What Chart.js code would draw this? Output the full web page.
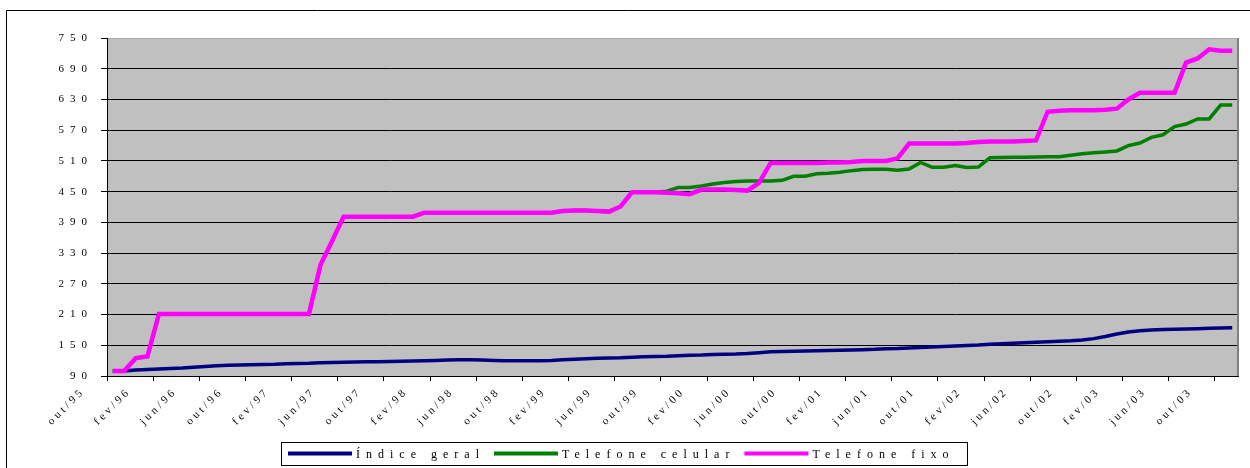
<!DOCTYPE html>
<html>
<head>
<meta charset="utf-8">
<script src="https://cdn.jsdelivr.net/npm/chart.js@4/dist/chart.umd.min.js"></script>
<style>
  html, body { margin: 0; padding: 0; background: #ffffff; }
  canvas { display: block; }
</style>
</head>
<body>
<canvas id="c" width="1250" height="468" style="width:1250px;height:468px"></canvas>
<script>
// Monthly categories, out/95 .. nov/03
const months = [
  'out/95','nov/95','dez/95',
  'jan/96','fev/96','mar/96','abr/96','mai/96','jun/96','jul/96','ago/96','set/96','out/96','nov/96','dez/96',
  'jan/97','fev/97','mar/97','abr/97','mai/97','jun/97','jul/97','ago/97','set/97','out/97','nov/97','dez/97',
  'jan/98','fev/98','mar/98','abr/98','mai/98','jun/98','jul/98','ago/98','set/98','out/98','nov/98','dez/98',
  'jan/99','fev/99','mar/99','abr/99','mai/99','jun/99','jul/99','ago/99','set/99','out/99','nov/99','dez/99',
  'jan/00','fev/00','mar/00','abr/00','mai/00','jun/00','jul/00','ago/00','set/00','out/00','nov/00','dez/00',
  'jan/01','fev/01','mar/01','abr/01','mai/01','jun/01','jul/01','ago/01','set/01','out/01','nov/01','dez/01',
  'jan/02','fev/02','mar/02','abr/02','mai/02','jun/02','jul/02','ago/02','set/02','out/02','nov/02','dez/02',
  'jan/03','fev/03','mar/03','abr/03','mai/03','jun/03','jul/03','ago/03','set/03','out/03','nov/03'
];

// Índice geral
const indiceGeral = [
  100, 100, 101.5, 102.5, 103.5, 104.5, 105.5, 107, 108.5, 110,
  111, 111.5, 112, 112.5, 113, 114, 114.5, 115, 116, 116.5,
  117, 117.5, 118, 118, 118.5, 119, 119.5, 120, 120.5, 121,
  121.5, 121.5, 121, 120.5, 120, 120, 120, 120, 120.5, 121.5,
  122.5, 123.5, 124.5, 125, 125.5, 126.5, 127.5, 128, 128.5, 129.5,
  130.5, 131, 132, 132.5, 133, 134, 135.5, 137.5, 138, 138.5,
  139, 139.5, 140, 140.5, 141, 141.5, 142, 143, 143.5, 144.5,
  145.5, 146.5, 147.5, 148.5, 149.5, 150.5, 152, 153, 154, 155,
  156, 157, 158, 159, 160.5, 163, 167, 172, 176, 178.5,
  180, 181, 181.5, 182, 182.5, 183, 183.5, 184
];

// Telefone celular
const telefoneCelular = [
  100, 100, 125, 128, 211, 211, 211, 211, 211, 211,
  211, 211, 211, 211, 211, 211, 211, 211, 307, 353,
  401, 401, 401, 401, 401, 401, 401, 409, 409, 409,
  409, 409, 409, 409, 409, 409, 409, 409, 409, 412,
  413, 413, 412, 411, 421, 449, 449, 449, 451, 458,
  458, 461, 465, 468, 470, 471, 471, 471, 472, 480,
  480, 485, 486, 488, 491, 493, 493.5, 493.5, 492, 494,
  507, 497.5, 497.5, 501, 497, 498, 516, 516.5, 517, 517,
  517.5, 518, 518, 521, 524, 526, 527.5, 529.5, 540, 545,
  556, 561, 577, 582, 592, 592, 619, 619
];

// Telefone fixo
const telefoneFixo = [
  100, 100, 125, 128, 211, 211, 211, 211, 211, 211,
  211, 211, 211, 211, 211, 211, 211, 211, 307, 353,
  401, 401, 401, 401, 401, 401, 401, 409, 409, 409,
  409, 409, 409, 409, 409, 409, 409, 409, 409, 412,
  413, 413, 412, 411, 421, 449, 449, 449, 448, 447,
  445, 454, 454, 454, 453, 452, 467, 506, 506, 506,
  506, 506, 507, 507, 508, 510, 510, 510, 515, 544,
  544, 544, 544, 544, 545, 547, 548, 548, 548, 549,
  550, 606, 608, 609, 609, 609, 610, 612, 630, 643,
  643, 643, 643, 702, 710, 728, 725, 725
];

const seriesNames = ['Índice geral', 'Telefone celular', 'Telefone fixo'];
const seriesColors = ['#000080', '#008000', '#ff00ff'];
const yMin = 90, yMax = 750, yStep = 60;
const labelEvery = 4;

const serif = "'Liberation Serif', 'Times New Roman', serif";

// Linear scale whose tick labels get extra letter spacing
class SpacedLinearScale extends Chart.LinearScale {
  drawLabels(area) {
    const ctx = this.ctx;
    ctx.save();
    ctx.letterSpacing = '6px';
    super.drawLabels(area);
    ctx.restore();
  }
}
SpacedLinearScale.id = 'spacedLinear';
SpacedLinearScale.defaults = Chart.LinearScale.defaults;

// Category scale drawing its labels at 45°, glyph by glyph with spacing
class SlantedCategoryScale extends Chart.CategoryScale {
  drawLabels() {
    const ctx = this.ctx;
    const spacing = 3.2, shiftX = -32, shiftY = 16;
    ctx.save();
    ctx.font = '11px ' + serif;
    ctx.fillStyle = '#000000';
    ctx.textBaseline = 'middle';
    ctx.textAlign = 'left';
    this.ticks.forEach((t, i) => {
      const label = t.label;
      if (!label) return;
      const chars = Array.from(label);
      const widths = chars.map((ch) => ctx.measureText(ch).width);
      const total = widths.reduce((s, w) => s + w, 0) + spacing * (chars.length - 1);
      ctx.save();
      ctx.translate(this.getPixelForTick(i) + shiftX, this.top + shiftY);
      ctx.rotate(-Math.PI / 4);
      let cx = -total;
      chars.forEach((ch, k) => {
        ctx.fillText(ch, cx, 0);
        cx += widths[k] + spacing;
      });
      ctx.restore();
    });
    ctx.restore();
  }
}
SlantedCategoryScale.id = 'slantedCategory';
SlantedCategoryScale.defaults = Chart.CategoryScale.defaults;

Chart.register(SpacedLinearScale, SlantedCategoryScale);

// Grey plot area on a white page
const backdrop = {
  id: 'backdrop',
  beforeDraw(chart) {
    const { ctx, chartArea: a } = chart;
    ctx.save();
    ctx.fillStyle = '#ffffff';
    ctx.fillRect(0, 0, chart.width, chart.height);
    ctx.fillStyle = '#c0c0c0';
    ctx.fillRect(a.left, a.top, a.right - a.left, a.bottom - a.top);
    ctx.restore();
  }
};

// Outer frame, plot-area edge and the boxed legend
const frameAndLegend = {
  id: 'frameAndLegend',
  afterDraw(chart) {
    const { ctx, chartArea: a } = chart;
    ctx.save();
    // right edge of the plot area
    ctx.strokeStyle = '#808080';
    ctx.lineWidth = 2;
    ctx.beginPath();
    ctx.moveTo(a.right, a.top);
    ctx.lineTo(a.right, a.bottom);
    ctx.stroke();

    // outer frame
    ctx.strokeStyle = '#000000';
    ctx.lineWidth = 1;
    ctx.beginPath();
    ctx.moveTo(6.5, chart.height + 2);
    ctx.lineTo(6.5, 10.5);
    ctx.lineTo(chart.width + 2, 10.5);
    ctx.stroke();

    // legend
    const box = { left: 281.5, top: 442.5, right: 967.5, bottom: 465.5 };
    ctx.fillStyle = '#ffffff';
    ctx.fillRect(box.left, box.top, box.right - box.left, box.bottom - box.top);
    ctx.strokeStyle = '#000000';
    ctx.lineWidth = 1;
    ctx.strokeRect(box.left, box.top, box.right - box.left, box.bottom - box.top);

    const midY = 453.5;
    ctx.font = '12px ' + serif;
    ctx.letterSpacing = '6px';
    ctx.textBaseline = 'middle';
    ctx.textAlign = 'left';
    let x = 288;
    chart.data.datasets.forEach((ds) => {
      ctx.strokeStyle = ds.borderColor;
      ctx.lineWidth = 4;
      ctx.lineCap = 'butt';
      ctx.beginPath();
      ctx.moveTo(x, midY);
      ctx.lineTo(x + 64, midY);
      ctx.stroke();
      const tx = x + 68;
      ctx.fillStyle = '#000000';
      ctx.fillText(ds.label, tx, midY + 1);
      x = tx + ctx.measureText(ds.label).width + 9;
    });
    ctx.restore();
  }
};

new Chart(document.getElementById('c'), {
  type: 'line',
  data: {
    labels: months,
    datasets: [
      { label: seriesNames[0], data: indiceGeral, borderColor: seriesColors[0], borderWidth: 3.5, order: 3 },
      { label: seriesNames[1], data: telefoneCelular, borderColor: seriesColors[1], borderWidth: 3.5, order: 2 },
      { label: seriesNames[2], data: telefoneFixo, borderColor: seriesColors[2], borderWidth: 4.5, order: 1 }
    ]
  },
  options: {
    responsive: false,
    animation: false,
    devicePixelRatio: 1,
    layout: { padding: { top: 38, right: 12, bottom: 32, left: 0 } },
    elements: { point: { radius: 0 }, line: { tension: 0, fill: false } },
    plugins: { legend: { display: false }, tooltip: { enabled: false } },
    scales: {
      x: {
        type: 'slantedCategory',
        offset: true,
        grid: {
          offset: true,
          drawOnChartArea: false,
          tickLength: 5,
          tickWidth: 1,
          tickColor: (c) => (c.index % labelEvery === 0 ? '#000000' : 'rgba(0,0,0,0)')
        },
        border: { color: '#000000', width: 1 },
        ticks: {
          autoSkip: false,
          minRotation: 45,
          maxRotation: 45,
          color: '#000000',
          font: { family: serif, size: 11 },
          callback: (v, i) => (i % labelEvery === 0 ? months[i] : '')
        },
        afterFit: (s) => { s.height = 60; }
      },
      y: {
        type: 'spacedLinear',
        min: yMin,
        max: yMax,
        grid: {
          color: (c) => (c.tick && c.tick.value === yMax ? '#a8a8a8' : '#000000'),
          lineWidth: 1,
          tickLength: 6,
          tickColor: '#000000'
        },
        border: { color: '#000000', width: 1 },
        ticks: {
          stepSize: yStep,
          padding: 8,
          color: '#000000',
          font: { family: serif, size: 11 }
        },
        afterFit: (s) => { s.width = 107; }
      }
    }
  },
  plugins: [backdrop, frameAndLegend]
});
</script>
</body>
</html>
